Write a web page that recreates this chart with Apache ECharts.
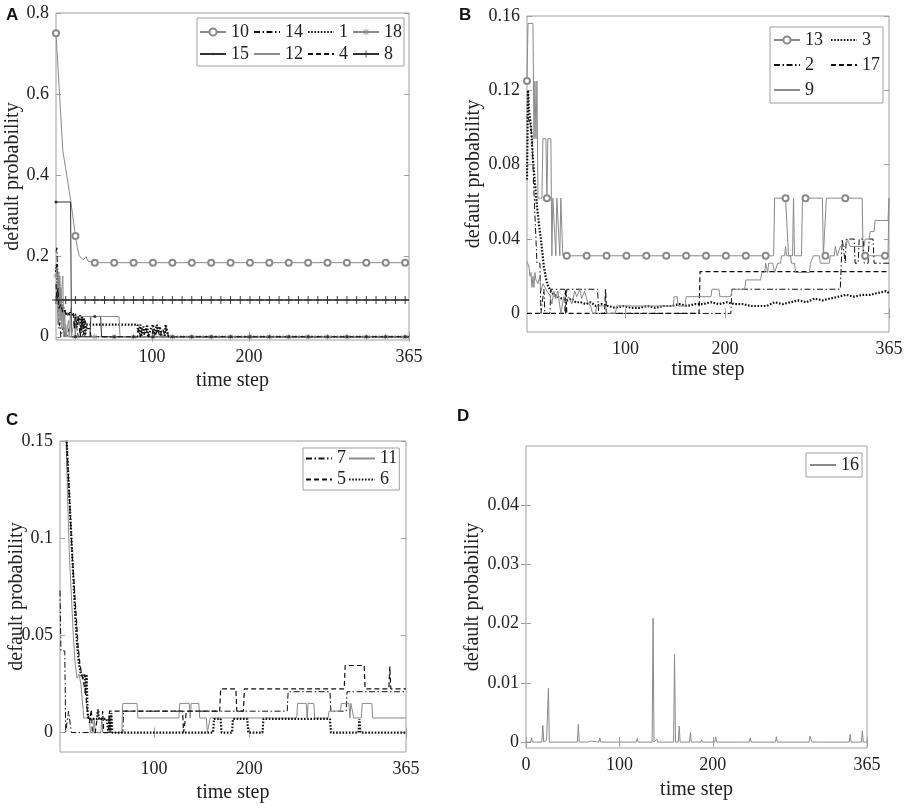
<!DOCTYPE html>
<html>
<head>
<meta charset="utf-8">
<title>default probability</title>
<script src="https://cdn.jsdelivr.net/npm/echarts@6/dist/echarts.min.js"></script>
<style>
  html, body { margin: 0; padding: 0; background: #fff; }
  #chart { width: 908px; height: 810px; }
</style>
</head>
<body>
<div id="chart"></div>
<script>
// ---------- data: [time step, default probability] ----------
// panel A
var a10 = [[1,0.75],[8,0.46],[16,0.34],[21,0.249],[23,0.22],[25,0.2],[27,0.197],[29,0.19],[31,0.193],[32,0.198],[34,0.187],[37,0.185],[41,0.183],[61,0.183],[81,0.183],[101,0.183],[121,0.183],[141,0.183],[161,0.183],[181,0.183],[201,0.183],[221,0.183],[241,0.183],[261,0.183],[281,0.183],[301,0.183],[321,0.183],[341,0.183],[361,0.183],[365,0.183]];
var a14 = [[1,0.21],[2,0.22],[3,0.12],[4,0.02],[5,0.035],[6,0],[8,0],[9,0.03],[10,0],[13,0],[14,0.02],[15,0],[20,0],[22,0.03],[24,0],[28,0],[29,0.015],[30,0],[365,0]];
var a1 = [[1,0.16],[2,0.18],[3,0.1],[4,0.14],[5,0.09],[6,0.1],[7,0.075],[9,0.07],[11,0.06],[13,0.055],[21,0.055],[22,0.02],[23,0.05],[25,0.04],[26,0.055],[27,0.01],[28,0.05],[29,0.02],[30,0.045],[31,0],[32,0.03],[85,0.03],[86,0.01],[88,0.03],[89,0],[91,0.025],[93,0.01],[95,0.03],[96,0],[98,0],[99,0.02],[101,0.03],[103,0.005],[105,0.03],[106,0.01],[108,0.025],[110,0],[113,0],[114,0.03],[116,0.03],[117,0],[365,0]];
var a18 = [[1,0.15],[2,0.17],[3,0.08],[4,0.16],[5,0.04],[6,0.12],[7,0.02],[8,0.08],[9,0],[11,0.03],[12,0],[21,0],[41,0],[61,0],[81,0],[101,0],[121,0],[141,0],[161,0],[181,0],[201,0],[221,0],[241,0],[261,0],[281,0],[301,0],[321,0],[341,0],[361,0],[365,0]];
var a15 = [[1,0.333],[16,0.333],[17,0],[21,0],[36,0],[37,0.05],[41,0.05],[47,0.05],[48,0],[61,0],[81,0],[101,0],[121,0],[141,0],[161,0],[181,0],[201,0],[221,0],[241,0],[261,0],[281,0],[301,0],[321,0],[341,0],[361,0],[365,0]];
var a12 = [[1,0.1],[2,0.12],[3,0.03],[4,0.1],[5,0.15],[6,0.04],[7,0.12],[8,0.15],[9,0.02],[10,0.06],[11,0],[13,0],[14,0.04],[15,0],[16,0.07],[17,0],[19,0],[20,0.045],[21,0],[22,0.05],[66,0.05],[67,0],[365,0]];
var a4 = [[1,0.13],[2,0.09],[3,0.12],[4,0.07],[6,0.08],[8,0.06],[10,0.065],[12,0.05],[15,0.06],[19,0.06],[20,0.02],[21,0.05],[23,0.03],[24,0.05],[26,0],[27,0.04],[29,0.02],[31,0.04],[33,0.02],[36,0.02],[37,0],[85,0],[86,0.02],[88,0],[90,0.02],[92,0.005],[94,0.02],[96,0],[100,0],[101,0.02],[103,0],[106,0.02],[108,0],[111,0.02],[113,0.005],[115,0.02],[117,0],[365,0]];
var a8 = [[1,0.0909],[11,0.0909],[21,0.0909],[31,0.0909],[41,0.0909],[51,0.0909],[61,0.0909],[71,0.0909],[81,0.0909],[91,0.0909],[101,0.0909],[111,0.0909],[121,0.0909],[131,0.0909],[141,0.0909],[151,0.0909],[161,0.0909],[171,0.0909],[181,0.0909],[191,0.0909],[201,0.0909],[211,0.0909],[221,0.0909],[231,0.0909],[241,0.0909],[251,0.0909],[261,0.0909],[271,0.0909],[281,0.0909],[291,0.0909],[301,0.0909],[311,0.0909],[321,0.0909],[331,0.0909],[341,0.0909],[351,0.0909],[361,0.0909],[365,0.0909]];

// panel B
var b13 = [[1,0.125],[2,0.156],[7,0.156],[8,0.094],[9,0.125],[10,0.094],[11,0.125],[12,0.062],[16,0.062],[17,0.094],[20,0.094],[21,0.062],[22,0.094],[25,0.094],[26,0.031],[27,0.062],[29,0.062],[30,0.031],[31,0.062],[33,0.062],[34,0.031],[35,0.062],[36,0.062],[37,0.031],[41,0.031],[61,0.031],[81,0.031],[101,0.031],[121,0.031],[141,0.031],[161,0.031],[181,0.031],[201,0.031],[221,0.031],[241,0.031],[249,0.031],[250,0.062],[261,0.062],[263,0.062],[264,0.031],[268,0.031],[269,0.062],[270,0.031],[277,0.031],[278,0.062],[281,0.062],[298,0.062],[299,0.031],[301,0.031],[302,0.062],[321,0.062],[338,0.062],[339,0.031],[341,0.031],[361,0.031],[364,0.031],[365,0.062]];
var b3 = [[1,0.072],[2,0.12],[3,0.11],[5,0.1],[7,0.083],[9,0.07],[11,0.058],[13,0.048],[15,0.04],[17,0.03],[18,0.025],[20,0.019],[22,0.015],[25,0.012],[28,0.01],[32,0.009],[36,0.008],[42,0.007],[46,0.008],[50,0.006],[55,0.006],[60,0.005],[65,0.006],[70,0.004],[76,0.005],[82,0.004],[90,0.003],[98,0.004],[106,0.003],[114,0.003],[122,0.004],[130,0.003],[138,0.004],[146,0.004],[154,0.005],[162,0.004],[170,0.005],[178,0.005],[186,0.006],[194,0.005],[202,0.006],[210,0.005],[218,0.005],[226,0.004],[234,0.004],[242,0.004],[250,0.006],[258,0.005],[266,0.006],[274,0.007],[282,0.006],[290,0.008],[298,0.007],[306,0.008],[314,0.009],[322,0.01],[330,0.009],[338,0.01],[346,0.01],[354,0.011],[362,0.012],[365,0.011]];
var b2 = [[1,0.106],[3,0.104],[5,0.1],[6,0.094],[7,0.08],[8,0.065],[9,0.053],[10,0.04],[11,0.027],[14,0.027],[15,0],[17,0],[18,0.013],[19,0],[24,0],[25,0.013],[39,0.013],[40,0],[41,0.013],[72,0.013],[73,0],[206,0],[207,0.013],[316,0.013],[317,0.027],[318,0.04],[320,0.04],[321,0.027],[322,0.04],[330,0.04],[331,0.027],[334,0.027],[335,0.04],[339,0.04],[340,0.027],[344,0.027],[345,0.04],[349,0.04],[350,0.027],[365,0.027]];
var b17 = [[1,0],[39,0],[40,0.013],[41,0],[79,0],[80,0.013],[81,0],[174,0],[175,0.0225],[365,0.0225]];
var b9 = [[1,0.028],[3,0.025],[4,0.02],[5,0.022],[6,0.014],[7,0.02],[8,0.014],[9,0.022],[10,0.018],[12,0.016],[14,0.02],[15,0.012],[17,0.016],[19,0.014],[21,0.012],[24,0.01],[26,0.005],[28,0.012],[30,0.008],[32,0.012],[35,0],[37,0],[38,0.009],[40,0.006],[43,0.009],[46,0.005],[49,0.012],[51,0.009],[54,0.013],[56,0.008],[59,0.012],[62,0.006],[65,0.004],[67,0],[70,0],[71,0.004],[80,0.004],[81,0],[90,0],[91,0.004],[148,0.004],[149,0.009],[152,0.009],[153,0.004],[160,0.004],[161,0.009],[186,0.009],[187,0.013],[194,0.013],[195,0.009],[206,0.009],[207,0.013],[220,0.013],[221,0.018],[236,0.018],[237,0.022],[240,0.022],[241,0.027],[243,0.022],[244,0.027],[248,0.027],[250,0.022],[253,0.027],[256,0.027],[257,0.031],[260,0.031],[261,0.036],[262,0.031],[266,0.031],[267,0.027],[270,0.027],[271,0.022],[285,0.022],[286,0.027],[289,0.031],[295,0.031],[296,0.027],[305,0.027],[306,0.031],[310,0.031],[311,0.036],[313,0.031],[316,0.036],[322,0.036],[323,0.04],[326,0.036],[340,0.036],[341,0.04],[345,0.04],[346,0.044],[350,0.044],[351,0.05],[364,0.05],[365,0.062]];

// panel C
var c7 = [[1,0.073],[2,0.042],[6,0.042],[7,0],[9,0],[10,0.011],[12,0.011],[13,0],[67,0],[68,0.011],[240,0.011],[241,0.021],[285,0.021],[286,0.011],[302,0.011],[303,0.021],[365,0.021]];
var c11 = [[1,0.25],[7,0.16],[9,0.12],[11,0.09],[13,0.07],[15,0.05],[17,0.035],[19,0.028],[21,0.03],[23,0.025],[25,0.025],[26,0.0075],[32,0.0075],[33,0],[36,0],[37,0.0075],[38,0],[44,0],[45,0.0075],[46,0],[66,0],[67,0.015],[82,0.015],[83,0.0075],[126,0.0075],[127,0.015],[137,0.015],[138,0.0075],[139,0.015],[147,0.015],[148,0.0075],[155,0.0075],[156,0],[158,0],[159,0.0075],[250,0.0075],[251,0.015],[260,0.015],[261,0.0075],[262,0.015],[268,0.015],[269,0.0075],[283,0.0075],[284,0.011],[296,0.011],[297,0.015],[305,0.015],[306,0.0075],[307,0.015],[309,0.015],[310,0.0075],[318,0.0075],[319,0.015],[329,0.015],[330,0.0075],[365,0.0075]];
var c5 = [[1,0.26],[7,0.165],[8,0.15],[10,0.13],[12,0.11],[14,0.09],[16,0.075],[18,0.06],[20,0.045],[22,0.035],[24,0.03],[26,0.025],[28,0.02],[30,0.01],[32,0.005],[34,0.012],[35,0],[38,0],[40,0.007],[45,0.007],[46,0.011],[47,0],[52,0],[53,0.011],[130,0.011],[131,0],[133,0],[134,0.011],[169,0.011],[170,0.0225],[186,0.0225],[187,0.011],[194,0.011],[195,0.0225],[300,0.0225],[301,0.0345],[321,0.0345],[322,0.0225],[347,0.0225],[348,0.034],[349,0.0225],[365,0.0225]];
var c6 = [[1,0.25],[7,0.16],[9,0.14],[11,0.12],[13,0.1],[15,0.08],[17,0.06],[19,0.045],[21,0.035],[23,0.03],[25,0.028],[27,0.03],[28,0.02],[29,0.03],[30,0.01],[31,0.007],[40,0.007],[41,0.012],[42,0.007],[50,0.007],[52,0],[53,0.009],[54,0],[55,0.01],[56,0],[162,0],[163,0.007],[170,0.007],[171,0],[182,0],[183,0.007],[198,0.007],[199,0],[214,0],[215,0.007],[285,0.007],[286,0],[315,0],[316,0.007],[317,0],[365,0]];

// panel D
var d16 = [[0,0],[5,0],[6,0.0007],[7,0],[17,0],[18,0.0028],[19,0],[22,0.0003],[23,0],[24,0.0091],[25,0],[55,0],[56,0.003],[57,0],[66,0],[67,0.0002],[68,0],[69,0.0002],[70,0],[78,0],[79,0.0007],[80,0],[90,0],[91,0.0003],[92,0],[118,0],[119,0.0006],[120,0],[135,0],[136,0.0209],[137,0],[139,0],[140,0.0005],[141,0],[158,0],[159,0.0148],[160,0],[163,0],[164,0.0027],[165,0],[175,0],[176,0.0016],[177,0],[187,0],[188,0.0004],[189,0],[196,0],[197,0.0003],[198,0],[202,0],[203,0.0009],[204,0],[233,0],[234,0.0002],[235,0],[239,0],[240,0.0007],[241,0],[251,0],[252,0.0002],[253,0],[267,0],[268,0.0009],[269,0],[303,0],[304,0.001],[305,0.0007],[306,0],[312,0],[313,0.0002],[314,0],[346,0],[347,0.0013],[348,0],[353,0],[354,0.0002],[355,0],[359,0],[360,0.0019],[361,0],[365,0]];

// tick labels
var xTicks = [100, 200, 365];
var xTicksD = [0, 100, 200, 365];
var yTicksA = [0, 0.2, 0.4, 0.6, 0.8];
var yTicksB = [0, 0.04, 0.08, 0.12, 0.16];
var yTicksC = [0, 0.05, 0.1, 0.15];
var yTicksD = [0, 0.01, 0.02, 0.03, 0.04];

// ---------- styles ----------
var FONT = 'Liberation Serif';
var GRAY = '#8a8a8a', BLACK = '#111111', DARK = '#333333', FRAME = '#a0a0a0', TEXT = '#222222';
var DASH = [5, 3], DOT = [1.6, 1.6], DASHDOT = [6, 2.5, 1.5, 2.5];
var CIRCLE = 'emptyCircle';
var PLUS = 'path://M4.4,0h1.2v10h-1.2zM0,4.4h10v1.2h-10z';
var STAR = 'path://M4.5,0h1v10h-1zM0,4.5h10v1h-10zM1.2,1.9l0.7,-0.7l6.9,6.9l-0.7,0.7zM8.1,1.2l0.7,0.7l-6.9,6.9l-0.7,-0.7z';
var DOTM = 'path://M0,0M10,10M5,3.3a1.7,1.7 0 1,1 0,3.4a1.7,1.7 0 1,1 0,-3.4z';

var chart = echarts.init(document.getElementById('chart'));

var grids = [
  {left: 56, top: 13, width: 353, height: 327},
  {left: 527, top: 16, width: 362, height: 316},
  {left: 60, top: 441, width: 346, height: 311},
  {left: 526, top: 446, width: 341, height: 302}
];
grids.forEach(function (g) {
  g.show = true; g.borderColor = FRAME; g.borderWidth = 1;
  g.backgroundColor = 'transparent'; g.outerBoundsMode = 'none'; g.containLabel = false;
});

var xAxes = [], yAxes = [];
function panelAxes(i, p) {
  function tick(vals) {
    return {show: true, inside: true, length: 5, customValues: vals, lineStyle: {color: FRAME, width: 1}};
  }
  var label = {fontFamily: FONT, fontSize: 18, color: TEXT};
  xAxes.push({
    gridIndex: i, type: 'value', position: 'bottom', min: p.xMin, max: 365,
    axisLine: {show: false}, splitLine: {show: false}, axisTick: tick(p.xTicks),
    axisLabel: Object.assign({customValues: p.xTicks, margin: 8}, label),
    name: 'time step', nameLocation: 'middle', nameGap: p.xGap, nameMoveOverlap: false,
    nameTextStyle: {fontFamily: FONT, fontSize: 20, color: TEXT}
  });
  xAxes.push({
    gridIndex: i, type: 'value', position: 'top', min: p.xMin, max: 365,
    axisLine: {show: false}, splitLine: {show: false}, axisTick: tick(p.xTicks), axisLabel: {show: false}
  });
  yAxes.push({
    gridIndex: i, type: 'value', position: 'left', min: p.yMin, max: p.yMax,
    axisLine: {show: false}, splitLine: {show: false}, axisTick: tick(p.yTicks),
    axisLabel: Object.assign({customValues: p.yTicks, margin: 7}, label),
    name: 'default probability', nameLocation: 'middle', nameGap: p.yGap, nameMoveOverlap: false,
    nameTextStyle: {fontFamily: FONT, fontSize: 20, color: TEXT}
  });
  yAxes.push({
    gridIndex: i, type: 'value', position: 'right', min: p.yMin, max: p.yMax,
    axisLine: {show: false}, splitLine: {show: false}, axisTick: tick(p.yTicks), axisLabel: {show: false}
  });
}
panelAxes(0, {xMin: 1, xTicks: xTicks, yMin: -0.008, yMax: 0.8, yTicks: yTicksA, xGap: 31, yGap: 33});
panelAxes(1, {xMin: 1, xTicks: xTicks, yMin: -0.01, yMax: 0.16, yTicks: yTicksB, xGap: 28, yGap: 43});
panelAxes(2, {xMin: 1, xTicks: xTicks, yMin: -0.01, yMax: 0.15, yTicks: yTicksC, xGap: 31, yGap: 33});
panelAxes(3, {xMin: 0, xTicks: xTicksD, yMin: -0.001, yMax: 0.05, yTicks: yTicksD, xGap: 32, yGap: 43});

var series = [];
function line(panel, name, data, color, width, type, mark) {
  var s = {
    name: name, type: 'line', xAxisIndex: panel * 2, yAxisIndex: panel * 2,
    data: data, symbol: 'none', animation: false, silent: true, clip: true,
    lineStyle: {color: color, width: width, type: type, cap: 'butt'},
    itemStyle: {color: color}
  };
  if (mark) {
    s.symbol = mark.symbol;
    s.showAllSymbol = true;
    s.symbolSize = function (v) { return (v[0] - 1) % mark.every === 0 ? mark.size : 0; };
    s.itemStyle = {color: color, borderColor: color, borderWidth: mark.border};
  }
  series.push(s);
}

line(0, '10', a10, GRAY, 1, 'solid', {symbol: CIRCLE, every: 20, size: 6, border: 1});
line(0, '14', a14, BLACK, 1, DASHDOT);
line(0, '1', a1, BLACK, 2.2, DOT);
line(0, '18', a18, GRAY, 1, 'solid', {symbol: STAR, every: 20, size: 6, border: 0});
line(0, '15', a15, DARK, 1, 'solid', {symbol: DOTM, every: 20, size: 9, border: 0});
line(0, '12', a12, GRAY, 1, 'solid');
line(0, '4', a4, BLACK, 1.2, DASH);
line(0, '8', a8, DARK, 1.5, 'solid', {symbol: PLUS, every: 10, size: 8, border: 0});

line(1, '13', b13, GRAY, 1, 'solid', {symbol: CIRCLE, every: 20, size: 6, border: 1});
line(1, '3', b3, BLACK, 2.2, DOT);
line(1, '2', b2, BLACK, 1, DASHDOT);
line(1, '17', b17, BLACK, 1.2, DASH);
line(1, '9', b9, GRAY, 1, 'solid');

line(2, '7', c7, BLACK, 1, DASHDOT);
line(2, '11', c11, GRAY, 1, 'solid');
line(2, '5', c5, BLACK, 1.2, DASH);
line(2, '6', c6, BLACK, 2.2, DOT);

line(3, '16', d16, GRAY, 1, 'solid');

function items(names, marked) {
  return names.map(function (n) {
    return marked.indexOf(n) >= 0 ? {name: n} : {name: n, itemStyle: {opacity: 0}};
  });
}
function legendBox(o) {
  return Object.assign({
    show: true, orient: 'horizontal', itemWidth: 26, itemHeight: 9,
    borderColor: FRAME, borderWidth: 1, backgroundColor: '#fff', selectedMode: false,
    inactiveColor: '#fff'
  }, o);
}

var option = {
  backgroundColor: '#fff',
  animation: false,
  title: [
    {text: 'A', left: 6, top: 7},
    {text: 'B', left: 459, top: 7},
    {text: 'C', left: 6, top: 412},
    {text: 'D', left: 457, top: 408}
  ].map(function (t) {
    t.padding = 0;
    t.textStyle = {fontFamily: 'Liberation Sans', fontWeight: 'bold', fontSize: 17, color: '#111'};
    return t;
  }),
  grid: grids,
  xAxis: xAxes,
  yAxis: yAxes,
  legend: [
    legendBox({left: 197, top: 18, width: 205, itemGap: 4, padding: [5, 2, 3, 2],
      textStyle: {fontFamily: FONT, fontSize: 18, color: TEXT, lineHeight: 17},
      data: items(['10', '14', '1', '18', '15', '12', '4', '8'], ['10', '18', '15', '8'])}),
    legendBox({left: 770, top: 27, width: 112, itemGap: 7, padding: [4, 3, 4, 3],
      textStyle: {fontFamily: FONT, fontSize: 18, color: TEXT, lineHeight: 15, width: 18},
      data: items(['13', '3', '2', '17', '9'], ['13'])}),
    legendBox({left: 303, top: 448, width: 96, itemGap: 2, padding: [1, 2, 1, 2],
      textStyle: {fontFamily: FONT, fontSize: 18, color: TEXT, lineHeight: 19},
      data: items(['7', '11', '5', '6'], [])}),
    legendBox({left: 806, top: 453, itemGap: 2, padding: [3, 3, 3, 3],
      textStyle: {fontFamily: FONT, fontSize: 18, color: TEXT, lineHeight: 18},
      data: items(['16'], [])})
  ],
  series: series
};
chart.setOption(option);
</script>
</body>
</html>
